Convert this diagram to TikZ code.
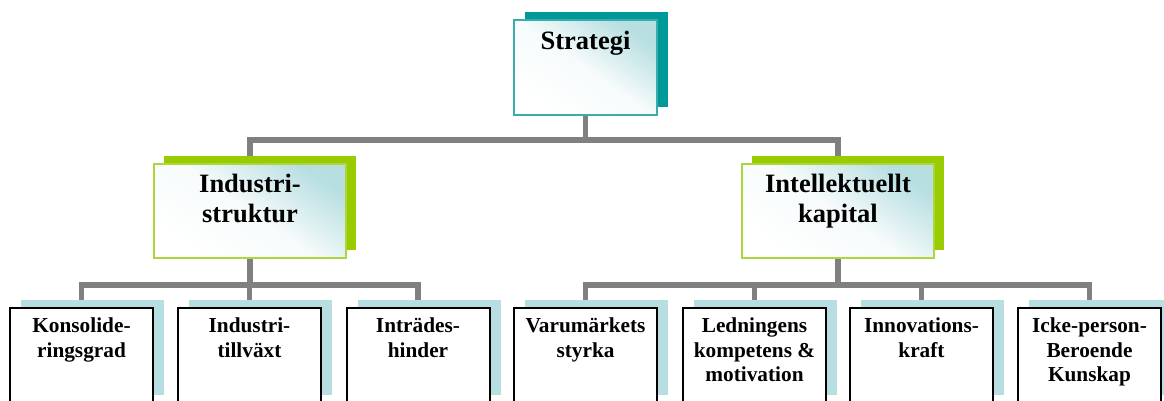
\documentclass[tikz,border=0pt]{standalone}
\usepackage{fontspec}
\setmainfont{Liberation Serif}
\usetikzlibrary{shadows,backgrounds}

\definecolor{conngray}{HTML}{808080}
\definecolor{tealdark}{HTML}{009999}
\definecolor{tealedge}{HTML}{3AACAC}
\definecolor{limegreen}{HTML}{99CC00}
\definecolor{limeedge}{HTML}{ADD63A}
\definecolor{paleblue}{HTML}{B7DEE1}

\tikzset{
  conn/.style={draw=conngray, line width=5.5pt},
  gradfill/.style={top color=paleblue, bottom color=white,
    middle color=paleblue!12!white, shading angle=-35},
  headbox/.style={rectangle, inner sep=0pt, line width=2pt,
    minimum width=143pt, minimum height=95pt, draw=tealedge, gradfill,
    general shadow={fill=tealdark, shadow xshift=11pt, shadow yshift=8pt}},
  midbox/.style={rectangle, inner sep=0pt, line width=2pt,
    minimum width=192pt, minimum height=94pt, draw=limeedge, gradfill,
    general shadow={fill=limegreen, shadow xshift=10pt, shadow yshift=8pt}},
  leafbox/.style={rectangle, inner sep=0pt, line width=2pt,
    minimum width=143pt, minimum height=95pt, draw=black, fill=white,
    general shadow={fill=paleblue, shadow xshift=11pt, shadow yshift=8pt}},
  bigtxt/.style={anchor=north, inner sep=0pt, align=center,
    font=\fontsize{26.5}{30}\selectfont\bfseries},
  smalltxt/.style={anchor=north, inner sep=0pt, align=center,
    font=\fontsize{21.3}{24.5}\selectfont\bfseries},
}

\begin{document}
\begin{tikzpicture}[x=1pt,y=-1pt]
\useasboundingbox (0,0) rectangle (1164,401);
\clip (0,0) rectangle (1164,401);

% top level
\node[headbox] (strat) at (585.5,67.5) {};
\node[bigtxt] (stratT) at ([yshift=-12pt]strat.north) {Strategi};

% second level
\node[midbox] (ind) at (250,211) {};
\node[bigtxt] (indT) at ([yshift=-11pt]ind.north) {Industri-\\struktur};
\node[midbox] (int) at (838,211) {};
\node[bigtxt] (intT) at ([yshift=-11pt]int.north) {Intellektuellt\\kapital};

% third level
\node[leafbox] (k1) at (81.5,355.5) {};
\node[smalltxt] (k1T) at ([yshift=-11pt]k1.north) {Konsolide-\\ringsgrad};
\node[leafbox] (k2) at (249.5,355.5) {};
\node[smalltxt] (k2T) at ([yshift=-11pt]k2.north) {Industri-\\tillväxt};
\node[leafbox] (k3) at (418,355.5) {};
\node[smalltxt] (k3T) at ([yshift=-11pt]k3.north) {Inträdes-\\hinder};
\node[leafbox] (k4) at (585.5,355.5) {};
\node[smalltxt] (k4T) at ([yshift=-11pt]k4.north) {Varumärkets\\styrka};
\node[leafbox] (k5) at (754.5,355.5) {};
\node[smalltxt] (k5T) at ([yshift=-11pt]k5.north) {Ledningens\\kompetens \&\\motivation};
\node[leafbox] (k6) at (921.5,355.5) {};
\node[smalltxt] (k6T) at ([yshift=-11pt]k6.north) {Innovations-\\kraft};
\node[leafbox] (k7) at (1089.5,355.5) {};
\node[smalltxt] (k7T) at ([yshift=-11pt]k7.north) {Icke-person-\\Beroende\\Kunskap};

% connectors
\begin{scope}[on background layer]
  \coordinate (busTop) at (0,140);
  \coordinate (busLow) at (0,285);
  \draw[conn] (strat.south) |- (ind.north |- busTop) -- (ind.north);
  \draw[conn] (strat.south) |- (int.north |- busTop) -- (int.north);
  \foreach \c in {k1,k2,k3}
    \draw[conn] (ind.south) |- (\c.north |- busLow) -- (\c.north);
  \foreach \c in {k4,k5,k6,k7}
    \draw[conn] (int.south) |- (\c.north |- busLow) -- (\c.north);
\end{scope}
\end{tikzpicture}
\end{document}
